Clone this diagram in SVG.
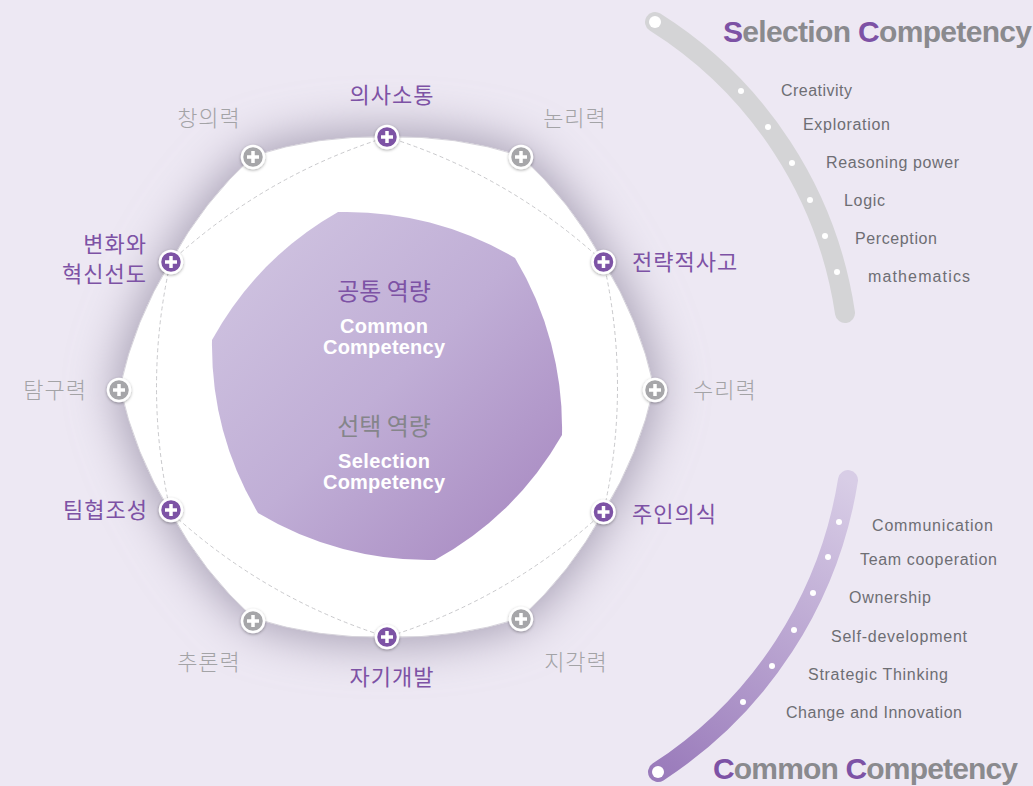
<svg xmlns="http://www.w3.org/2000/svg" width="1033" height="786" viewBox="0 0 1033 786">
<defs>
<style>
.ko{font-family:"Noto Sans CJK KR","Noto Sans",sans-serif;font-size:22px;letter-spacing:1px}
.kp{fill:#7d52a5;font-weight:400}
.kg{fill:#a3a3a6;font-weight:300}
.en{font-family:"Liberation Sans",Arial,sans-serif;font-size:16px;fill:#6e6e73}
.ttl{font-family:"Liberation Sans",Arial,sans-serif;font-size:30px;font-weight:bold;fill:#8a8a8e}
.pu{fill:#7d52a5}
.cw{font-family:"Liberation Sans",Arial,sans-serif;font-size:20px;font-weight:bold;fill:#ffffff}
.ck{font-family:"Noto Sans CJK KR","Noto Sans",sans-serif;font-size:24px}
.dot{fill:#ffffff}
.np{fill:#7d52a5;stroke:#ffffff;stroke-width:2.5}
.ng{fill:#a6a6a9;stroke:#ffffff;stroke-width:2.5}
.plus{stroke:#ffffff;stroke-width:3.5;stroke-linecap:butt}
</style>
<filter id="blur" x="-30%" y="-30%" width="160%" height="160%"><feGaussianBlur stdDeviation="24"/></filter>
<filter id="ns" x="-50%" y="-50%" width="200%" height="200%"><feDropShadow dx="0" dy="1" stdDeviation="1.5" flood-color="#000" flood-opacity="0.35"/></filter>
<linearGradient id="inner" x1="212" y1="212" x2="562" y2="560" gradientUnits="userSpaceOnUse">
<stop offset="0" stop-color="#d2c7e2"/>
<stop offset="0.5" stop-color="#c0aed6"/>
<stop offset="1" stop-color="#a585bf"/>
</linearGradient>
<linearGradient id="carc" x1="658" y1="772" x2="848" y2="480" gradientUnits="userSpaceOnUse">
<stop offset="0" stop-color="#9a7bbb"/>
<stop offset="1" stop-color="#d8cde6"/>
</linearGradient>
<g id="plusSign"><line class="plus" x1="-6" y1="0" x2="6" y2="0"/><line class="plus" x1="0" y1="-6" x2="0" y2="6"/></g>
<path id="ringShape" d="M387,137 A400,400 0 0 1 520.5,155.8 A400,400 0 0 1 603.5,262 A400,400 0 0 1 654,387 A400,400 0 0 1 603.5,512 A400,400 0 0 1 520.5,618.2 A400,400 0 0 1 387,637 A400,400 0 0 1 253.5,618.2 A400,400 0 0 1 170.5,512 A400,400 0 0 1 120,387 A400,400 0 0 1 170.5,262 A400,400 0 0 1 253.5,155.8 A400,400 0 0 1 387,137 Z"/>
</defs>

<rect x="0" y="0" width="1033" height="786" fill="#ede8f3"/>

<!-- outer white shape with shadow -->
<g id="ring">
<use href="#ringShape" fill="#a39bb0" stroke="#a39bb0" stroke-width="10" filter="url(#blur)"/>
<use href="#ringShape" fill="#ffffff" stroke="#d6d3db" stroke-width="1"/>
</g>

<g id="connectors">
<path d="M387,137 A565,565 0 0 1 603.5,262 A565,565 0 0 1 603.5,512 A565,565 0 0 1 387,637 A565,565 0 0 1 170.5,512 A565,565 0 0 1 170.5,262 A565,565 0 0 1 387,137 Z" fill="none" stroke="#c9c9cc" stroke-width="1" stroke-dasharray="4 3"/>
</g>

<!-- inner shape -->
<g id="core">
<path d="M338,212 A330,330 0 0 1 515,258 A330,330 0 0 1 562,435 A330,330 0 0 1 435,560 A330,330 0 0 1 258,513 A330,330 0 0 1 212,340 A330,330 0 0 1 338,212 Z" fill="url(#inner)"/>
<text class="ck" x="384" y="300" text-anchor="middle" fill="#7d52a5">공통 역량</text>
<text class="cw" x="384" y="333" text-anchor="middle" textLength="88">Common</text>
<text class="cw" x="384" y="354" text-anchor="middle" textLength="122">Competency</text>
<text class="ck" x="384" y="435" text-anchor="middle" fill="#85858a">선택 역량</text>
<text class="cw" x="384" y="468" text-anchor="middle" textLength="92">Selection</text>
<text class="cw" x="384" y="489" text-anchor="middle" textLength="122">Competency</text>
</g>

<!-- purple nodes -->
<g id="n-communication" filter="url(#ns)"><circle class="np" cx="387" cy="137" r="11"/><use href="#plusSign" x="387" y="137"/></g>
<g id="n-strategic" filter="url(#ns)"><circle class="np" cx="603.5" cy="262" r="11"/><use href="#plusSign" x="603.5" y="262"/></g>
<g id="n-ownership" filter="url(#ns)"><circle class="np" cx="603.5" cy="512" r="11"/><use href="#plusSign" x="603.5" y="512"/></g>
<g id="n-selfdev" filter="url(#ns)"><circle class="np" cx="387" cy="637" r="11"/><use href="#plusSign" x="387" y="637"/></g>
<g id="n-team" filter="url(#ns)"><circle class="np" cx="171" cy="510" r="11"/><use href="#plusSign" x="171" y="510"/></g>
<g id="n-change" filter="url(#ns)"><circle class="np" cx="171" cy="262" r="11"/><use href="#plusSign" x="171" y="262"/></g>
<!-- gray nodes -->
<g id="n-logic" filter="url(#ns)"><circle class="ng" cx="521" cy="157" r="11"/><use href="#plusSign" x="521" y="157"/></g>
<g id="n-math" filter="url(#ns)"><circle class="ng" cx="655" cy="390" r="11"/><use href="#plusSign" x="655" y="390"/></g>
<g id="n-perception" filter="url(#ns)"><circle class="ng" cx="521" cy="619" r="11"/><use href="#plusSign" x="521" y="619"/></g>
<g id="n-reasoning" filter="url(#ns)"><circle class="ng" cx="253" cy="621" r="11"/><use href="#plusSign" x="253" y="621"/></g>
<g id="n-exploration" filter="url(#ns)"><circle class="ng" cx="119" cy="390" r="11"/><use href="#plusSign" x="119" y="390"/></g>
<g id="n-creativity" filter="url(#ns)"><circle class="ng" cx="253" cy="157" r="11"/><use href="#plusSign" x="253" y="157"/></g>

<!-- node labels -->
<g id="labels">
<text class="ko kp" x="392" y="103" text-anchor="middle">의사소통</text>
<text class="ko kg" x="209" y="126" text-anchor="middle">창의력</text>
<text class="ko kg" x="575" y="126" text-anchor="middle">논리력</text>
<text class="ko kp" x="632" y="270">전략적사고</text>
<text class="ko kg" x="693" y="398">수리력</text>
<text class="ko kp" x="632" y="522">주인의식</text>
<text class="ko kg" x="576" y="670" text-anchor="middle">지각력</text>
<text class="ko kp" x="392" y="685" text-anchor="middle">자기개발</text>
<text class="ko kg" x="209" y="670" text-anchor="middle">추론력</text>
<text class="ko kp" x="148" y="518" text-anchor="end">팀협조성</text>
<text class="ko kg" x="87" y="398" text-anchor="end">탐구력</text>
<text class="ko kp" x="147" y="252" text-anchor="end">변화와</text>
<text class="ko kp" x="147" y="282" text-anchor="end">혁신선도</text>
</g>

<!-- Selection competency arc -->
<g id="selection-legend">
<path d="M655,22 A416,416 0 0 1 845,313" fill="none" stroke="#d4d4d6" stroke-width="20" stroke-linecap="round"/>
<circle class="dot" cx="655" cy="22" r="6"/>
<circle class="dot" cx="741" cy="91" r="3"/>
<circle class="dot" cx="768" cy="127" r="3"/>
<circle class="dot" cx="792" cy="163" r="3"/>
<circle class="dot" cx="810" cy="200" r="3"/>
<circle class="dot" cx="825" cy="236" r="3"/>
<circle class="dot" cx="837" cy="272" r="3"/>
<text class="ttl" x="723" y="42" textLength="309"><tspan class="pu">S</tspan>election <tspan class="pu">C</tspan>ompetency</text>
<text class="en" x="781" y="96" textLength="71">Creativity</text>
<text class="en" x="803" y="130" textLength="87">Exploration</text>
<text class="en" x="826" y="168" textLength="133">Reasoning power</text>
<text class="en" x="844" y="206" textLength="41">Logic</text>
<text class="en" x="855" y="244" textLength="82">Perception</text>
<text class="en" x="868" y="282" textLength="102">mathematics</text>
</g>

<!-- Common competency arc -->
<g id="common-legend">
<path d="M658,772 A428.8,428.8 0 0 0 848,480" fill="none" stroke="url(#carc)" stroke-width="20" stroke-linecap="round"/>
<circle class="dot" cx="658" cy="772" r="6"/>
<circle class="dot" cx="839" cy="522" r="3"/>
<circle class="dot" cx="828" cy="557" r="3"/>
<circle class="dot" cx="813" cy="593" r="3"/>
<circle class="dot" cx="794" cy="630" r="3"/>
<circle class="dot" cx="772" cy="666" r="3"/>
<circle class="dot" cx="743" cy="702" r="3"/>
<text class="ttl" x="713" y="779" textLength="305"><tspan class="pu">C</tspan>ommon <tspan class="pu">C</tspan>ompetency</text>
<text class="en" x="872" y="531" textLength="121">Communication</text>
<text class="en" x="860" y="565" textLength="137">Team cooperation</text>
<text class="en" x="849" y="603" textLength="82">Ownership</text>
<text class="en" x="831" y="642" textLength="136">Self-development</text>
<text class="en" x="808" y="680" textLength="140">Strategic Thinking</text>
<text class="en" x="786" y="718" textLength="176">Change and Innovation</text>
</g>
</svg>
